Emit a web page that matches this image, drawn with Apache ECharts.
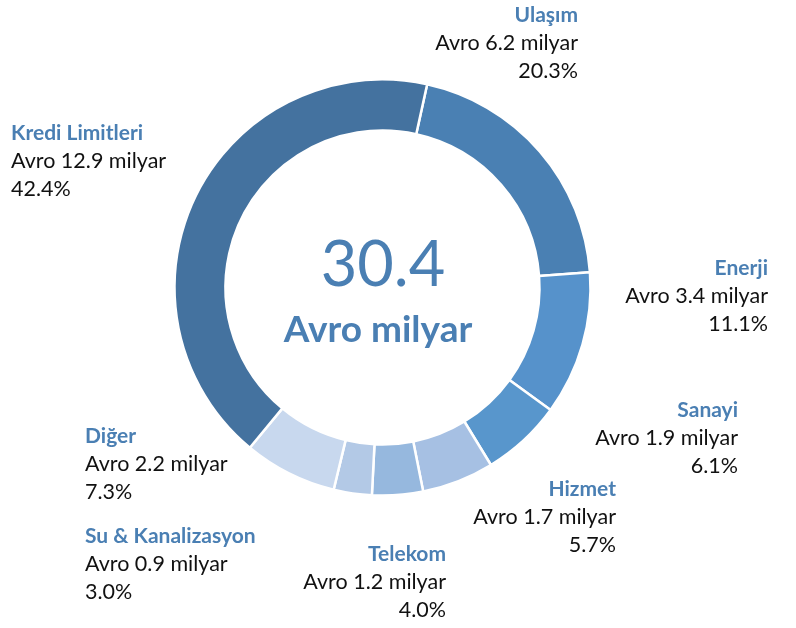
<!DOCTYPE html>
<html>
<head>
<meta charset="utf-8">
<script src="https://cdn.jsdelivr.net/npm/echarts@6/dist/echarts.min.js"></script>
<style>
  html, body { margin: 0; padding: 0; background: #fff; }
  #chart { width: 796px; height: 628px; }
</style>
</head>
<body>
<div id="chart"></div>
<script>
// sectors, clockwise from the top
const sectors = ['Ulaşım', 'Enerji', 'Sanayi', 'Hizmet', 'Telekom', 'Su & Kanalizasyon', 'Diğer', 'Kredi Limitleri']
const amounts = [6.2, 3.4, 1.9, 1.7, 1.2, 0.9, 2.2, 12.9]
const shares = ['20.3%', '11.1%', '6.1%', '5.7%', '4.0%', '3.0%', '7.3%', '42.4%']
const total = '30.4'
const totalUnit = 'Avro milyar'

const colors = ['#4a80b3', '#5692cb', '#5896cc', '#a6c0e3', '#96b8de', '#b3c9e6', '#c8d8ee', '#44729f']

// where each label block sits (x, y of top line, alignment)
const labelPos = [
    [578, 1, 'right'],
    [768, 254, 'right'],
    [738, 396, 'right'],
    [616, 475, 'right'],
    [446, 540, 'right'],
    [85, 522, 'left'],
    [85, 422, 'left'],
    [11, 119, 'left']
]

let pieData = []
for (let i = 0; i < sectors.length; i++) {
    pieData.push({
        name: sectors[i],
        value: amounts[i],
        itemStyle: { color: colors[i] },
        label: {
            formatter: '{t|' + sectors[i] + '}\n{v|Avro ' + amounts[i].toFixed(1) + ' milyar}\n{v|' + shares[i] + '}',
            align: labelPos[i][2],
            rich: {
                t: { fontFamily: 'Lato', fontSize: 21, fontWeight: 'bold', color: '#4a7fb3', lineHeight: 28, align: labelPos[i][2] },
                v: { fontFamily: 'Lato', fontSize: 21.5, color: '#111', lineHeight: 28, align: labelPos[i][2] }
            }
        }
    })
}

const option = {
    backgroundColor: '#fff',
    animation: false,
    graphic: [
        {
            type: 'text',
            style: { text: total, x: 383, y: 266, align: 'center', verticalAlign: 'middle', fontFamily: 'Lato', fontSize: 63, fill: '#4a7fb3' },
        },
        {
            type: 'text',
            style: { text: totalUnit, x: 378, y: 330, align: 'center', verticalAlign: 'middle', fontFamily: 'Lato', fontSize: 37, fontWeight: 'bold', fill: '#4a7fb3' },
        }
    ],
    series: [
        {
            type: 'pie',
            center: [382.5, 287.5],
            radius: [157, 208],
            startAngle: 77.6,
            clockwise: true,
            data: pieData,
            itemStyle: { borderColor: '#fff', borderWidth: 2.5 },
            label: { show: true, position: 'outside', overflow: 'none', width: 300 },
            labelLine: { show: false },
            labelLayout: function (params) {
                const p = labelPos[params.dataIndex]
                return { x: p[0], y: p[1], align: p[2], verticalAlign: 'top', hideOverlap: false, moveOverlap: false }
            },
            emphasis: { disabled: true }
        }
    ]
}

const myChart = echarts.init(document.getElementById('chart'), null, { renderer: 'canvas' })
myChart.setOption(option)
</script>
</body>
</html>
